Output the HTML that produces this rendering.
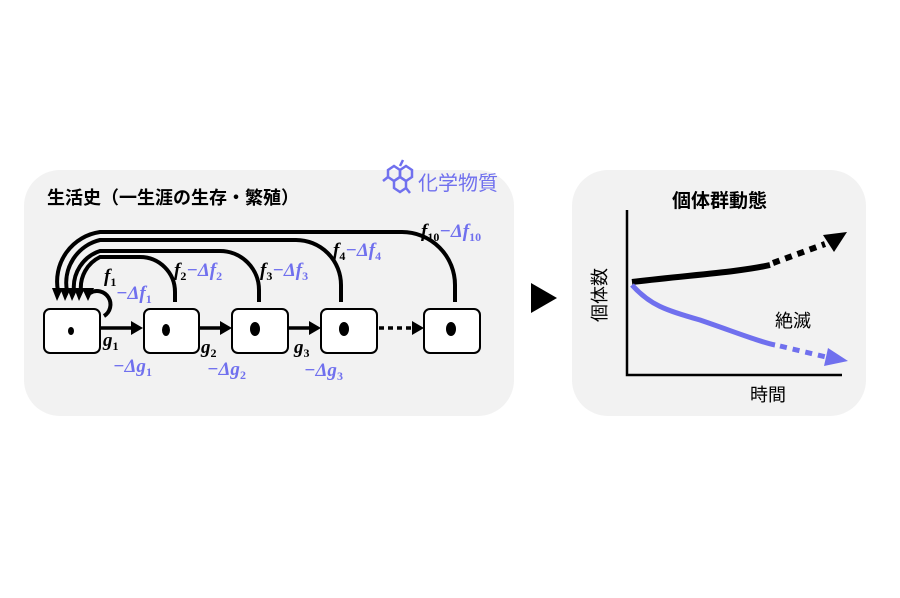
<!DOCTYPE html>
<html><head><meta charset="utf-8"><style>body{margin:0;background:#fff}svg{display:block}</style></head><body>
<svg width="900" height="598" viewBox="0 0 900 598" xmlns="http://www.w3.org/2000/svg" font-family="'Liberation Sans','Noto Sans CJK JP',sans-serif">
<rect x="24" y="170" width="490" height="246" rx="36" fill="#f2f2f2"/>
<rect x="572" y="170" width="294" height="246" rx="36" fill="#f2f2f2"/>
<polygon points="531,283 557,298 531,313" fill="#000"/>
<g fill="none" stroke="#7070ee" stroke-width="2.5">
<polygon points="388,170 394,166 400,170 400,177 394,181 388,177"/>
<polygon points="400,170 406,166 412,170 412,177 406,181 400,177"/>
<polygon points="394,181 400,177 406,181 406,188 400,192 394,188"/>
<line x1="388" y1="177" x2="383" y2="181"/><line x1="400" y1="166" x2="403" y2="160"/><line x1="406" y1="188" x2="410" y2="193"/>
</g>
<text x="418" y="190" font-size="20" fill="#7070ee">化学物質</text>
<text x="47" y="204" font-size="18" font-weight="bold">生活史（一生涯の生存・繁殖）</text>
<g fill="none" stroke="#000" stroke-width="4">
<path d="M175,302 V292 A35,35 0 0 0 140,257 H100 A34,34 0 0 0 81,291"/>
<path d="M259,302 V290 A39,39 0 0 0 220,251 H100 A38,38 0 0 0 74,291"/>
<path d="M341,302 V285 A45,45 0 0 0 296,240 H100 A44,44 0 0 0 67,291"/>
<path d="M455,302 V285 A53,53 0 0 0 402,232 H100 A50,50 0 0 0 58,291"/>
<path d="M104,316 A13,13 0 1 0 90,293"/>
</g>
<g fill="#000">
<polygon points="52,288 63,288 57,301"/><polygon points="60,288 71,288 65,301"/><polygon points="67,288 78,288 72,301"/><polygon points="74,288 85,288 79,301"/><polygon points="82,288 94,288 88,301"/>
</g>
<g fill="#fff" stroke="#000" stroke-width="2">
<rect x="44" y="309" width="56" height="44" rx="6"/><rect x="144" y="309" width="55" height="44" rx="6"/><rect x="232" y="309" width="56" height="44" rx="6"/><rect x="321" y="309" width="56" height="44" rx="6"/><rect x="424" y="309" width="56" height="44" rx="6"/>
</g>
<g fill="#000"><ellipse cx="71" cy="331" rx="3" ry="4"/><ellipse cx="166" cy="330" rx="4" ry="6"/><ellipse cx="255" cy="329" rx="5" ry="7"/><ellipse cx="344" cy="329" rx="5" ry="7"/><ellipse cx="451" cy="329" rx="5" ry="7"/></g>
<g stroke="#000" stroke-width="3.5"><line x1="101" y1="328" x2="132" y2="328"/><line x1="200" y1="328" x2="221" y2="328"/><line x1="289" y1="328" x2="310" y2="328"/><line x1="379" y1="328" x2="411" y2="328" stroke-dasharray="5,4"/></g>
<g fill="#000"><polygon points="131,321 143,328 131,335"/><polygon points="220,321 232,328 220,335"/><polygon points="309,321 321,328 309,335"/><polygon points="412,321 424,328 412,335"/></g>
<g font-family="'Liberation Serif',serif" font-style="italic" font-weight="bold" font-size="19">
<text x="104" y="282">f<tspan font-size="12" dy="4" font-style="normal">1</tspan></text>
<text x="116" y="299" fill="#7070ee">−Δf<tspan font-size="12" dy="4" font-style="normal">1</tspan></text>
<text x="174" y="276">f<tspan font-size="12" dy="4" font-style="normal">2</tspan><tspan dy="-4" fill="#7070ee">−Δf</tspan><tspan font-size="12" dy="4" font-style="normal" fill="#7070ee">2</tspan></text>
<text x="260" y="276">f<tspan font-size="12" dy="4" font-style="normal">3</tspan><tspan dy="-4" fill="#7070ee">−Δf</tspan><tspan font-size="12" dy="4" font-style="normal" fill="#7070ee">3</tspan></text>
<text x="333" y="256">f<tspan font-size="12" dy="4" font-style="normal">4</tspan><tspan dy="-4" fill="#7070ee">−Δf</tspan><tspan font-size="12" dy="4" font-style="normal" fill="#7070ee">4</tspan></text>
<text x="421" y="237">f<tspan font-size="12" dy="4" font-style="normal">10</tspan><tspan dy="-4" fill="#7070ee">−Δf</tspan><tspan font-size="12" dy="4" font-style="normal" fill="#7070ee">10</tspan></text>
<text x="103" y="346">g<tspan font-size="12" dy="4" font-style="normal">1</tspan></text>
<text x="113" y="372" fill="#7070ee">−Δg<tspan font-size="12" dy="4" font-style="normal">1</tspan></text>
<text x="201" y="353">g<tspan font-size="12" dy="4" font-style="normal">2</tspan></text>
<text x="207" y="375" fill="#7070ee">−Δg<tspan font-size="12" dy="4" font-style="normal">2</tspan></text>
<text x="294" y="353">g<tspan font-size="12" dy="4" font-style="normal">3</tspan></text>
<text x="304" y="376" fill="#7070ee">−Δg<tspan font-size="12" dy="4" font-style="normal">3</tspan></text>
</g>
<text x="672" y="207" font-size="19" font-weight="bold">個体群動態</text>
<path d="M627,210 V375 H842" fill="none" stroke="#000" stroke-width="2.5"/>
<text font-size="18" transform="translate(606,295) rotate(-90)" text-anchor="middle">個体数</text>
<text x="750" y="401" font-size="18">時間</text>
<text x="775" y="327" font-size="18">絶滅</text>
<path d="M632,282 C690,275 740,272 770,265" fill="none" stroke="#000" stroke-width="6"/>
<path d="M773,263 L825,244" fill="none" stroke="#000" stroke-width="6" stroke-dasharray="7,6"/>
<polygon points="823,235 847,232 834,252" fill="#000"/>
<path d="M632,285 C650,305 665,310 700,320 C735,332 760,342 775,345" fill="none" stroke="#7070ee" stroke-width="5"/>
<path d="M780,346 L826,357" fill="none" stroke="#7070ee" stroke-width="5" stroke-dasharray="7,6"/>
<polygon points="828,348 848,361 824,366" fill="#7070ee"/>
</svg>
</body></html>
